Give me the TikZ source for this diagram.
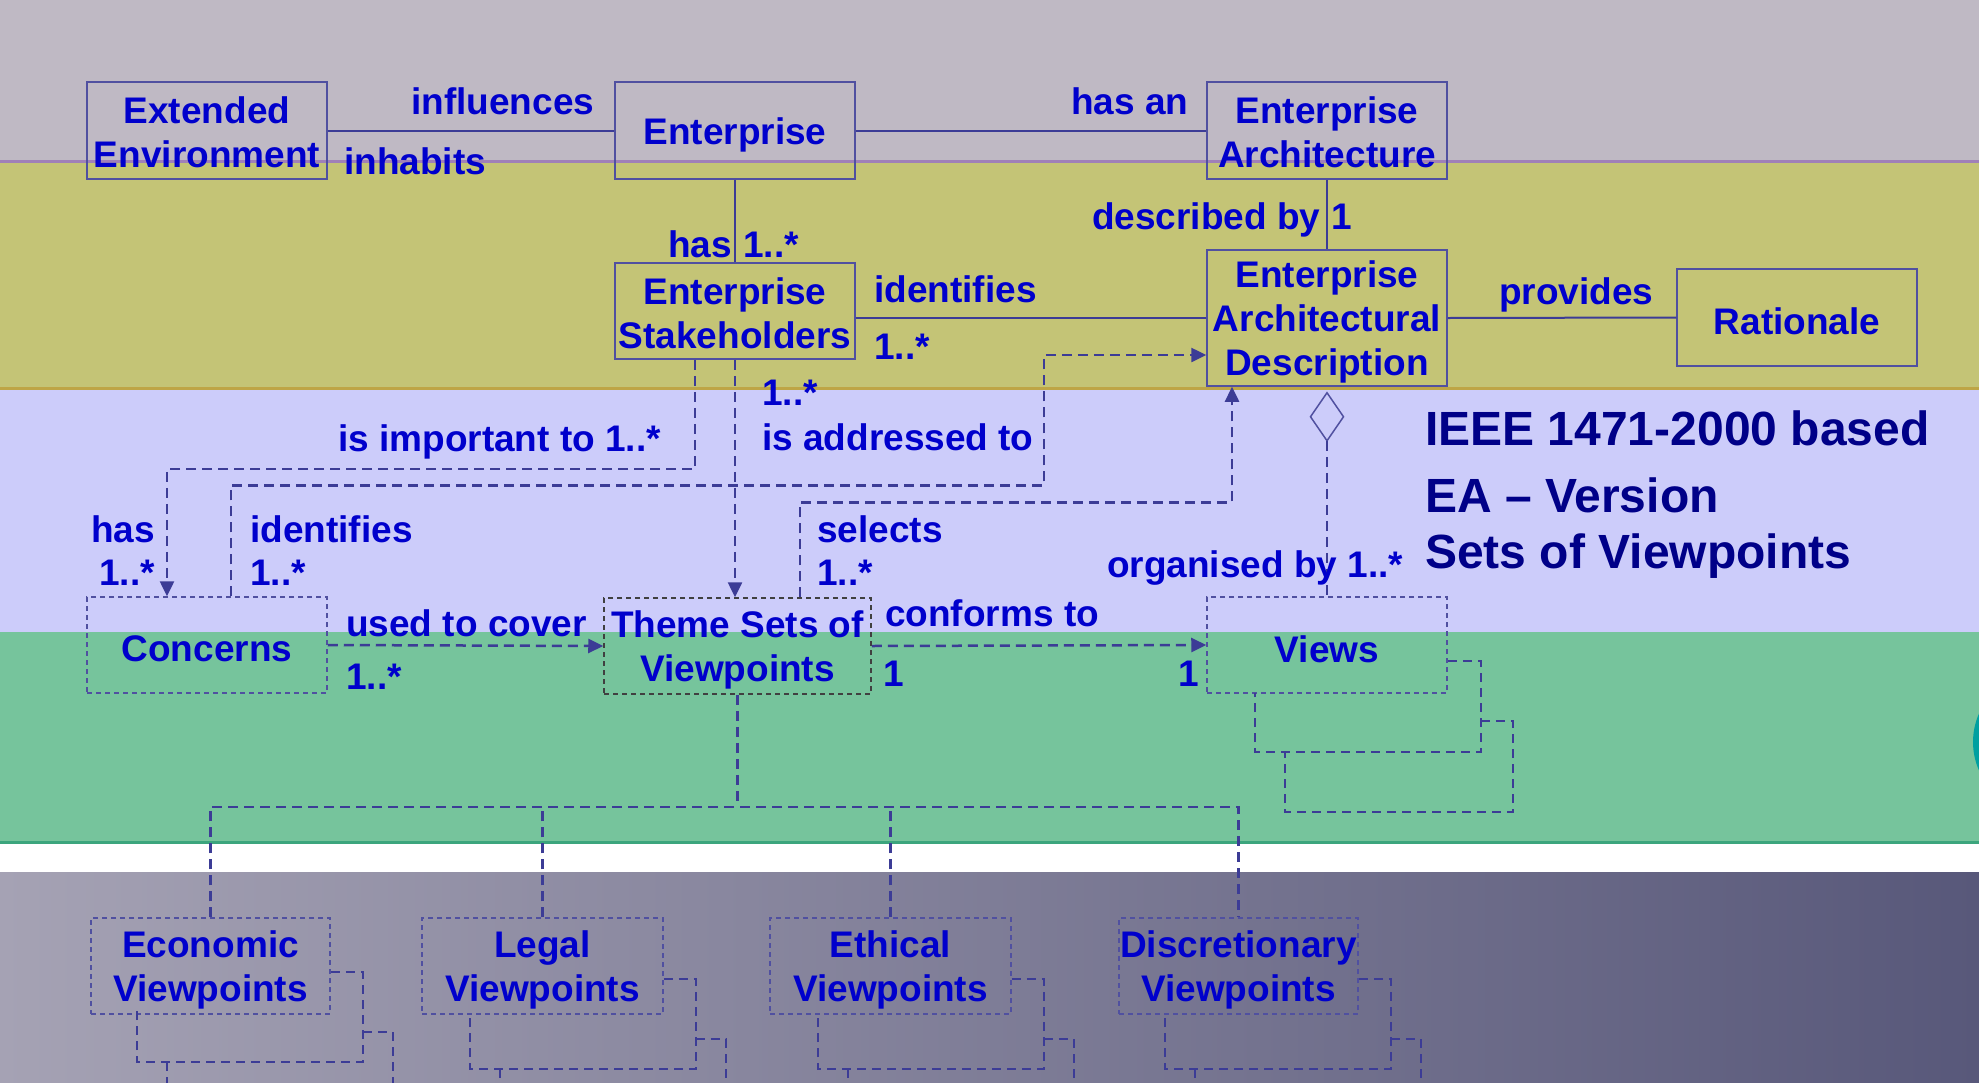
\documentclass[tikz,border=0pt]{standalone}
\usepackage{fontspec}
\setmainfont{Liberation Sans}
\usetikzlibrary{arrows.meta}
\definecolor{bandA}{RGB}{191,185,196}
\definecolor{lineA}{RGB}{160,128,184}
\definecolor{bandB}{RGB}{196,196,118}
\definecolor{lineB}{RGB}{190,165,70}
\definecolor{bandC}{RGB}{204,204,250}
\definecolor{bandD}{RGB}{118,196,156}
\definecolor{lineD}{RGB}{60,165,125}
\definecolor{gradL}{RGB}{165,162,180}
\definecolor{gradR}{RGB}{88,88,122}
\definecolor{txtblue}{RGB}{0,0,204}
\definecolor{titleblue}{RGB}{0,0,136}
\definecolor{conn}{RGB}{60,60,150}
\definecolor{boxline}{RGB}{80,80,160}
\definecolor{tealblob}{RGB}{0,160,160}
\newcommand{\bfnt}{\fontsize{37}{44}\selectfont\bfseries}
\tikzset{
  boxtext/.style={inner sep=0pt, align=center, text=txtblue, font=\bfnt, yshift=-4pt},
  btxt/.style={label={[boxtext]center:{#1}}},
  btxtup/.style={label={[boxtext, yshift=2pt]center:{#1}}},
  solidbox/.style={draw=boxline, line width=1.5pt, minimum width=240pt, minimum height=97pt,
    inner sep=0pt},
  dotbox/.style={solidbox, dash pattern=on 5pt off 4pt},
  themebox/.style={solidbox, draw=black!75, dash pattern=on 5pt off 4pt},
  lbl/.style={anchor=base west, inner sep=0pt, text=txtblue, font=\bfnt},
  ttl/.style={anchor=base west, inner sep=0pt, text=titleblue, font=\fontsize{48}{56}\selectfont\bfseries},
  sline/.style={draw=conn, line width=2pt},
  dline/.style={draw=conn, line width=2.5pt, dash pattern=on 10pt off 6pt},
  stk/.style={draw=conn, line width=2pt, dash pattern=on 9pt off 6pt},
  tip/.style={-{Triangle[length=15pt,width=14pt]}}
}
\begin{document}
\begin{tikzpicture}[x=1pt,y=-1pt]
\useasboundingbox (0,0) rectangle (1979,1082);
\clip (0,0) rectangle (1979,1082);
% bands
\fill[bandA] (0,0) rectangle (1979,162);
\fill[bandB] (0,162) rectangle (1979,388);
\fill[bandC] (0,388) rectangle (1979,632);
\fill[bandD] (0,632) rectangle (1979,842);
\fill[white] (0,842) rectangle (1979,872);
\shade[left color=gradL, right color=gradR] (0,872) rectangle (1979,1082);
\draw[lineA, line width=3pt] (0,161.5) -- (1979,161.5);
\draw[lineB, line width=3pt] (0,388) -- (1979,388);
\draw[lineD, line width=3pt] (0,842) -- (1979,842);
\fill[tealblob] (2043,742) circle (70);

% boxes
\node[solidbox, btxtup={Extended\\Environment}] (ee) at (207,130.5) {};
\node[solidbox, btxt={Enterprise}] (ent) at (735,130.5) {};
\node[solidbox, btxtup={Enterprise\\Architecture}] (ea) at (1327,130.5) {};
\node[solidbox, minimum height=96pt, btxtup={Enterprise\\Stakeholders}] (stake) at (735,311) {};
\node[solidbox, minimum height=136pt, btxt={Enterprise\\Architectural\\Description}] (ead) at (1327,318) {};
\node[solidbox, btxt={Rationale}] (rat) at (1797,317.5) {};
\node[dotbox, minimum height=96pt, btxt={Concerns}] (conc) at (207,645) {};
\node[themebox, minimum width=267pt, minimum height=96pt, btxt={Theme Sets of\\Viewpoints}] (theme) at (737.5,646) {};
\node[dotbox, minimum height=96pt, btxt={Views}] (views) at (1327,645) {};
\node[dotbox, minimum width=239pt, minimum height=96pt, btxt={Economic\\Viewpoints}] (econ) at (210.5,966) {};
\node[dotbox, minimum width=241pt, minimum height=96pt, btxt={Legal\\Viewpoints}] (legal) at (542.5,966) {};
\node[dotbox, minimum width=241pt, minimum height=96pt, btxt={Ethical\\Viewpoints}] (ethical) at (890.5,966) {};
\node[dotbox, minimum width=239pt, minimum height=96pt, btxt={Discretionary\\Viewpoints}] (disc) at (1238.5,966) {};

% solid connectors
\draw[sline] (ee.east) -- (ent.west);
\draw[sline] (ent.east) -- (ea.west);
\draw[sline] (ent.south) -- (stake.north);
\draw[sline] (ea.south) -- (ead.north);
\draw[sline] (ead.west -| stake.east) -- (ead.west);
\draw[sline] (ead.east) -- (rat.west);

% dashed connectors
\draw[dline, tip] ([xshift=-40pt]stake.south) -- ++(0,109) -| ([xshift=-40pt]conc.north);
\draw[dline, tip] ([xshift=24pt]conc.north) -- ++(0,-111) -- ++(813,0) |- ([yshift=-37pt]ead.west);
\draw[dline, tip] (stake.south) -- (stake.south |- theme.north);
\draw[dline, tip] ([xshift=62.5pt]theme.north) -- ++(0,-95) -| ([xshift=-95pt]ead.south);
\draw[dline, tip] (conc.east) -- (theme.west);
\draw[dline, tip] (theme.east) -- (views.west);
\draw[draw=boxline, line width=1.5pt] ([yshift=-6pt]ead.south) -- ++(16.5,24) -- ++(-16.5,24) -- ++(-16.5,-24) -- cycle;
\draw[dline, line width=2pt] ([yshift=-54pt]ead.south) -- (views.north);

% tree
\draw[dline] (theme.south) -- ++(0,112) coordinate (tj);
\draw[dline] (econ.north) |- (tj) -| (disc.north);
\draw[dline] (legal.north) -- (legal.north |- tj);
\draw[dline] (ethical.north) -- (ethical.north |- tj);

% stacks
\draw[stk] ([yshift=-16pt]views.east) -- ++(33,0) -- ++(0,91) -- ++(-226,0) -- ++(0,-59);
\draw[stk] ([yshift=-76pt]views.east) ++(33,0) -- ++(32,0) -- ++(0,91) -- ++(-228,0) -- ++(0,-60);
\foreach \n/\t in {econ/6,legal/13,ethical/13,disc/13}{
  \draw[stk] ([yshift=-\t pt]\n.east) -- ++(32,0) -- ++(0,90) -- ++(-226,0) -- ++(0,-55);
  \draw[stk] ([yshift=-\t pt-60pt]\n.east) ++(32,0) -- ++(30,0) -- ++(0,80);
  \draw[stk] ([yshift=-\t pt-90pt]\n.east) ++(-164,0) -- ++(0,40);
}

% labels
\node[lbl] (l1) at (411,114) {influences};
\node[lbl] (l2) at (344,174) {inhabits};
\node[lbl] (l3) at (1071,114) {has an};
\node[lbl] (l4) at (1092,229) {described by};
\node[lbl] (l5) at (1331,229) {1};
\node[lbl] (l6) at (668,257) {has};
\node[lbl] (l7) at (743,257) {1..*};
\node[lbl] (l8) at (874,302) {identifies};
\node[lbl] (l9) at (874,359) {1..*};
\node[lbl] (l10) at (1499,304) {provides};
\node[lbl] (l11) at (762,405) {1..*};
\node[lbl] (l12) at (762,450) {is addressed to};
\node[lbl] (l13) at (338,451) {is important to 1..*};
\node[lbl] (l14) at (91,542) {has};
\node[lbl] (l15) at (99,585) {1..*};
\node[lbl] (l16) at (250,542) {identifies};
\node[lbl] (l17) at (250,585) {1..*};
\node[lbl] (l18) at (817,542) {selects};
\node[lbl] (l19) at (817,585) {1..*};
\node[lbl] (l20) at (1107,577) {organised by 1..*};
\node[lbl] (l21) at (346,636) {used to cover};
\node[lbl] (l22) at (346,689) {1..*};
\node[lbl] (l23) at (885,626) {conforms to};
\node[lbl] (l24) at (883,686) {1};
\node[lbl] (l25) at (1178,686) {1};

% title
\node[ttl] (t1) at (1425,445) {IEEE 1471-2000 based};
\node[ttl] (t2) at (1425,512) {EA – Version};
\node[ttl] (t3) at (1425,568) {Sets of Viewpoints};
\end{tikzpicture}
\end{document}
